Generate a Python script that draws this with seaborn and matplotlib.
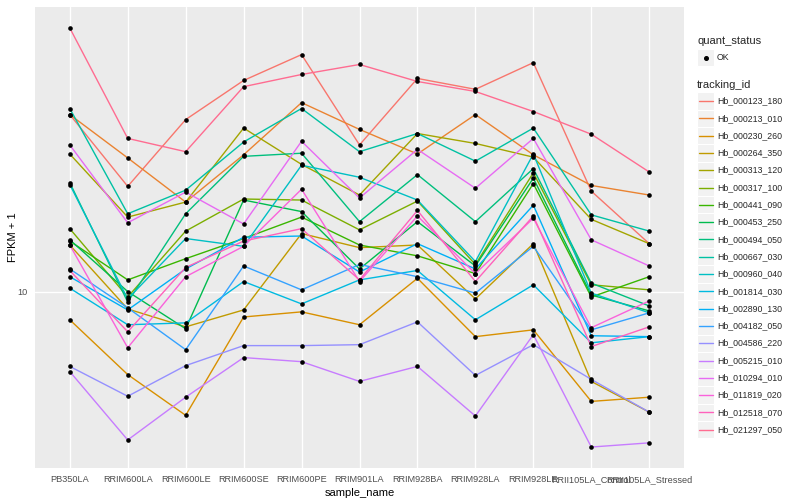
import numpy as np
import pandas as pd
import matplotlib
matplotlib.use("Agg")
import matplotlib.pyplot as plt
from matplotlib.patches import Rectangle
from matplotlib.lines import Line2D
from matplotlib.ticker import NullLocator, FixedLocator
import seaborn as sns

# ---------------- data ----------------
samples = ["PB350LA", "RRIM600LA", "RRIM600LE", "RRIM600SE", "RRIM600PE",
           "RRIM901LA", "RRIM928BA", "RRIM928LA", "RRIM928LE",
           "RRII105LA_Control", "RRII105LA_Stressed"]

tracking_ids = ["Hb_000123_180", "Hb_000213_010", "Hb_000230_260", "Hb_000264_350",
                "Hb_000313_120", "Hb_000317_100", "Hb_000441_090", "Hb_000453_250",
                "Hb_000494_050", "Hb_000667_030", "Hb_000960_040", "Hb_001814_030",
                "Hb_002890_130", "Hb_004182_050", "Hb_004586_220", "Hb_005215_010",
                "Hb_010294_010", "Hb_011819_020", "Hb_012518_070", "Hb_021297_050"]

hb_000123_180 = [27.9, 18.4, 27.1, 34.0, 39.5, 23.4, 34.4, 32.3, 37.7, 17.9, 13.2]
hb_000213_010 = [27.9, 21.7, 16.8, 22.1, 29.9, 25.6, 22.2, 27.9, 22.1, 18.5, 17.5]
hb_000230_260 = [8.49, 6.18, 4.88, 8.63, 8.89, 8.25, 10.8, 7.70, 8.01, 5.29, 5.42]
hb_000264_350 = [13.1, 9.04, 8.15, 8.99, 14.0, 12.9, 13.1, 9.58, 13.2, 5.94, 4.97]
hb_000313_120 = [22.2, 15.4, 16.8, 25.8, 20.9, 17.5, 25.0, 23.6, 21.8, 15.2, 13.2]
hb_000317_100 = [14.4, 9.69, 14.2, 17.1, 17.0, 14.3, 16.9, 11.7, 19.9, 10.4, 10.1]
hb_000441_090 = [13.4, 10.7, 12.1, 13.6, 15.4, 13.1, 12.3, 11.1, 18.7, 9.69, 10.9]
hb_000453_250 = [13.5, 10.0, 8.06, 17.0, 15.9, 11.4, 15.0, 11.6, 19.3, 9.80, 8.94]
hb_000494_050 = [18.8, 9.41, 15.7, 21.9, 22.3, 15.0, 19.7, 15.0, 20.4, 10.5, 9.20]
hb_000667_030 = [28.9, 15.7, 18.0, 23.8, 28.9, 22.5, 25.0, 21.3, 25.8, 15.6, 14.2]
hb_000960_040 = [18.6, 9.58, 13.6, 13.0, 20.8, 19.4, 17.0, 11.9, 22.2, 9.91, 8.84]
hb_001814_030 = [10.2, 8.25, 8.34, 10.6, 9.31, 10.7, 11.3, 8.49, 10.4, 7.43, 7.70]
hb_002890_130 = [10.9, 8.99, 11.4, 13.7, 13.8, 11.2, 13.2, 11.4, 16.5, 7.74, 7.70]
hb_004182_050 = [11.4, 9.10, 7.14, 11.6, 10.1, 11.7, 10.9, 9.91, 13.0, 8.01, 8.84]
hb_004586_220 = [6.48, 5.45, 6.51, 7.31, 7.31, 7.35, 8.39, 6.15, 7.35, 6.01, 4.97]
hb_005215_010 = [6.29, 4.23, 5.42, 6.82, 6.66, 5.94, 6.48, 4.86, 7.79, 4.06, 4.16]
hb_010294_010 = [23.4, 14.9, 17.8, 14.8, 23.9, 17.2, 22.8, 18.2, 24.3, 13.5, 11.6]
hb_011819_020 = [13.1, 7.22, 10.9, 13.0, 18.1, 10.6, 15.5, 11.1, 15.3, 8.11, 9.47]
hb_012518_070 = [11.3, 7.92, 11.5, 13.4, 14.4, 10.7, 16.0, 10.6, 15.5, 7.27, 8.15]
hb_021297_050 = [46.1, 24.3, 22.5, 32.8, 35.2, 37.3, 33.8, 31.9, 28.4, 24.9, 20.0]

series = [hb_000123_180, hb_000213_010, hb_000230_260, hb_000264_350, hb_000313_120,
          hb_000317_100, hb_000441_090, hb_000453_250, hb_000494_050, hb_000667_030,
          hb_000960_040, hb_001814_030, hb_002890_130, hb_004182_050, hb_004586_220,
          hb_005215_010, hb_010294_010, hb_011819_020, hb_012518_070, hb_021297_050]

# ---------------- styles ----------------
colors = ["#F8766D", "#EA8331", "#D89000", "#C09B00", "#A3A500", "#7CAE00", "#39B600",
          "#00BB4E", "#00BF7D", "#00C1A3", "#00BFC4", "#00BAE0", "#00B0F6", "#35A2FF",
          "#9590FF", "#C77CFF", "#E76BF3", "#FA62DB", "#FF62BC", "#FF6C91"]

rows = []
for tid, vals in zip(tracking_ids, series):
    for s, v in zip(samples, vals):
        rows.append({"tracking_id": tid, "sample_name": s, "fpkm": v})
df = pd.DataFrame(rows)

sns.set_style("white")
plt.rcParams["font.family"] = ["Liberation Sans", "DejaVu Sans"]

W, H = 800, 500
fig = plt.figure(figsize=(8, 5), dpi=100)
px_l, px_r, px_t, px_b = 35, 684, 7, 468
ax = fig.add_axes([px_l / W, 1 - px_b / H, (px_r - px_l) / W, (px_b - px_t) / H])

sns.lineplot(data=df, x="sample_name", y="fpkm", hue="tracking_id",
             hue_order=tracking_ids, palette=colors, sort=False, estimator=None,
             legend=False, linewidth=1.0, ax=ax, zorder=2)
sns.scatterplot(data=df, x="sample_name", y="fpkm", color="black", s=11,
                linewidth=0, legend=False, ax=ax, zorder=3)

ax.set_yscale("log")
lo, hi = np.log10(df["fpkm"].min()), np.log10(df["fpkm"].max())
pad = 0.05 * (hi - lo)
ax.set_ylim(10 ** (lo - pad), 10 ** (hi + pad))
ax.yaxis.set_major_locator(FixedLocator([10]))
ax.set_yticklabels(["10"])
ax.yaxis.set_minor_locator(NullLocator())
ax.set_xlim(-0.6, len(samples) - 0.4)

ax.set_facecolor("#EBEBEB")
ax.grid(True, which="major", color="white", linewidth=1.0)
ax.set_axisbelow(True)
for sp in ax.spines.values():
    sp.set_visible(False)
ax.tick_params(axis="both", length=3, width=0.8, color="#333333",
               labelsize=6.6, labelcolor="#4D4D4D", pad=2)
ax.set_xlabel("sample_name", fontsize=8, color="black", labelpad=3)
ax.set_ylabel("FPKM + 1", fontsize=8, color="black", labelpad=-0.5)

# ---------------- legend (ggplot-style, drawn in figure coords) ----------------
def fx(x):
    return x / W

def fy(y):
    return 1 - y / H

key_x0, key_w, key_h = 697, 17, 17.3
fig.text(fx(697), fy(41), "quant_status", fontsize=8, va="center", ha="left")
fig.add_artist(Rectangle((fx(key_x0), fy(57.5 + key_h / 2)), key_w / W, key_h / H,
                         transform=fig.transFigure, facecolor="#F2F2F2",
                         edgecolor="white", linewidth=0.8))
fig.add_artist(Line2D([fx(key_x0 + key_w / 2)], [fy(57.5)], marker="o", markersize=2.6,
                      color="black", linestyle="none", transform=fig.transFigure))
fig.text(fx(717), fy(57.5), "OK", fontsize=6.3, va="center", ha="left")

fig.text(fx(697), fy(85), "tracking_id", fontsize=8, va="center", ha="left")
for i, (tid, c) in enumerate(zip(tracking_ids, colors)):
    yc = 101 + 17.3 * i
    fig.add_artist(Rectangle((fx(key_x0), fy(yc + key_h / 2)), key_w / W, key_h / H,
                             transform=fig.transFigure, facecolor="#F2F2F2",
                             edgecolor="white", linewidth=0.8))
    fig.add_artist(Line2D([fx(key_x0 + 1.5), fx(key_x0 + key_w - 1.5)], [fy(yc), fy(yc)],
                          color=c, linewidth=1.0, transform=fig.transFigure))
    fig.text(fx(717), fy(yc), tid, fontsize=6.3, va="center", ha="left")

fig.savefig("out.png", dpi=100)
